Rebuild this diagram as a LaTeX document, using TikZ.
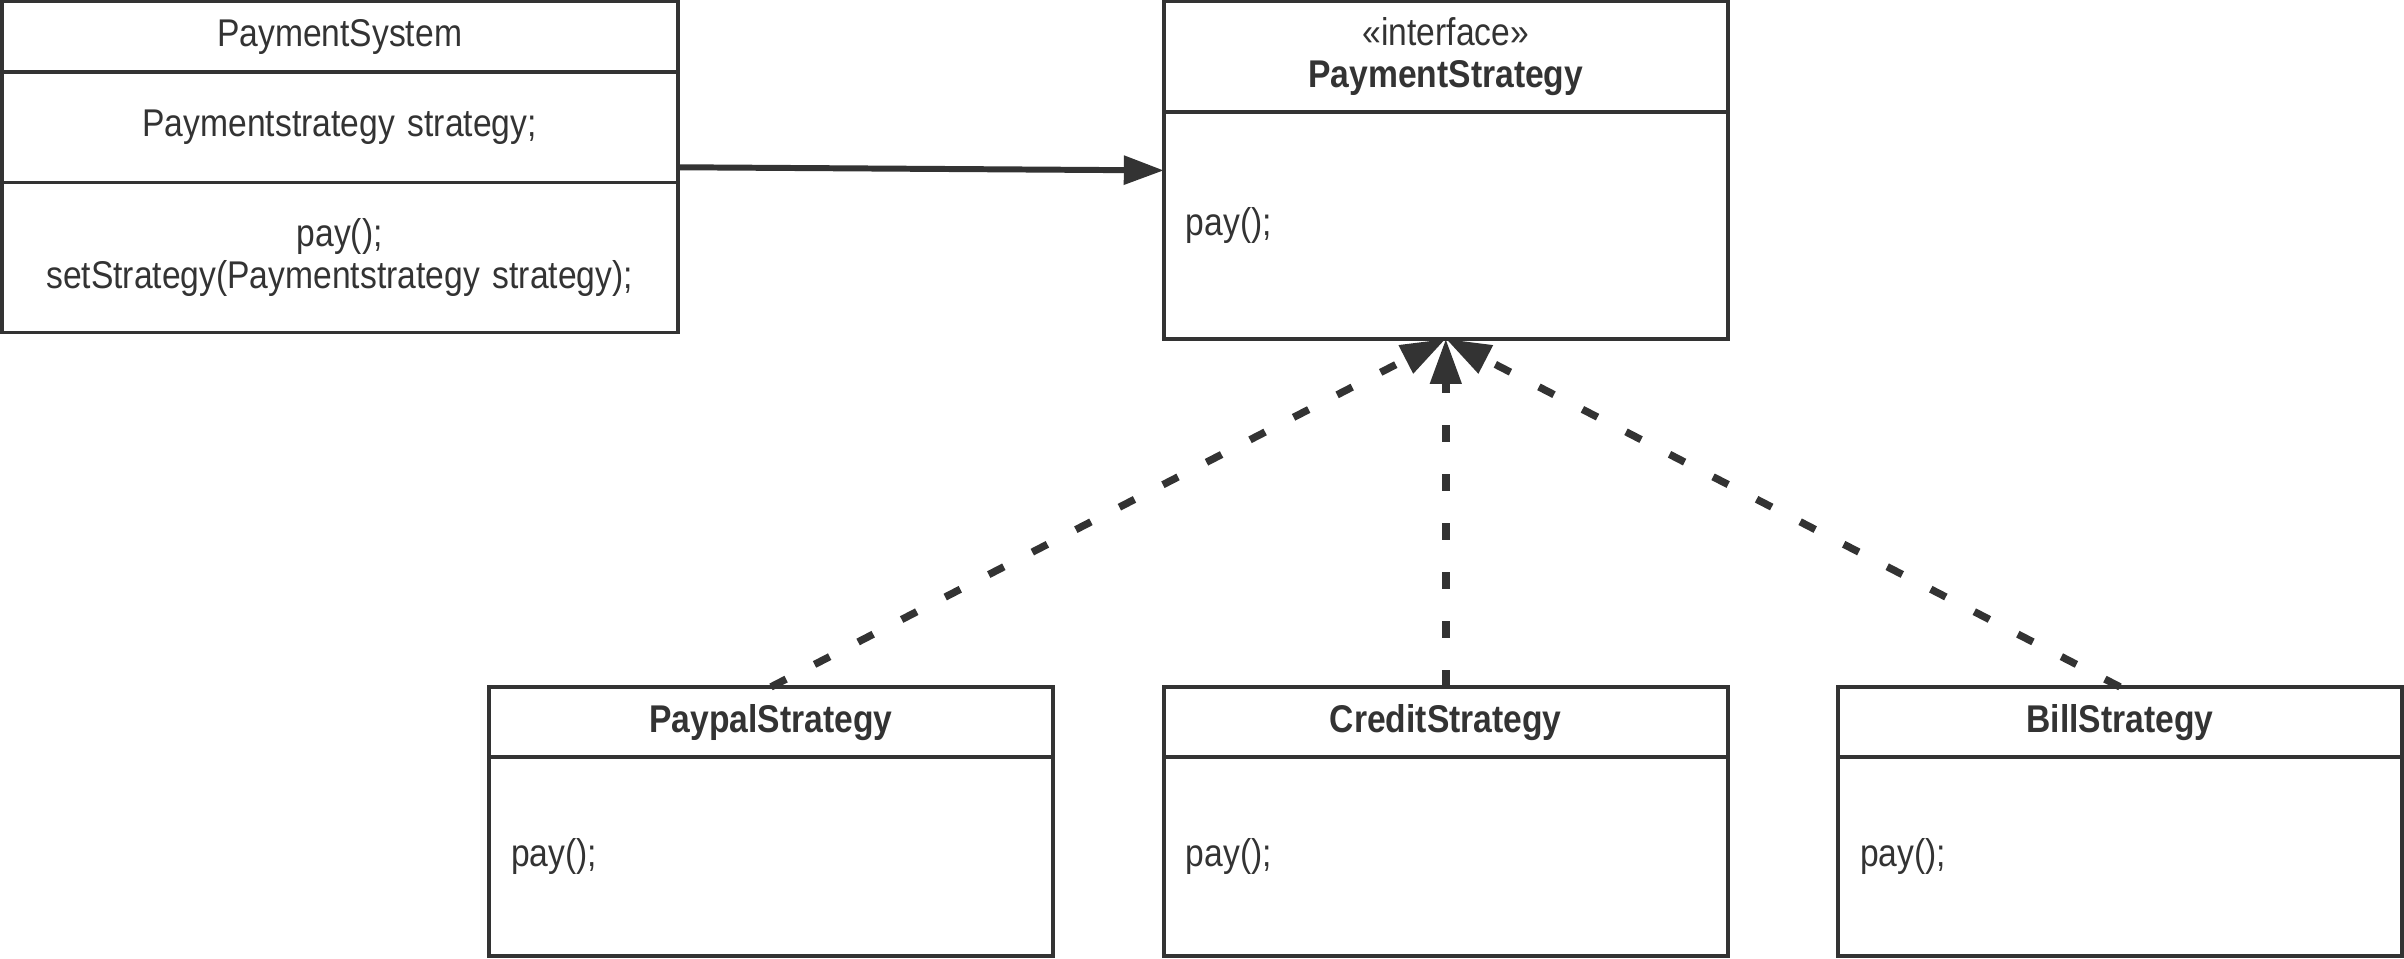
\documentclass[tikz,border=0pt]{standalone}
\usepackage{fontspec}
\setmainfont{Liberation Sans}[FakeStretch=0.87]
\usetikzlibrary{arrows.meta, calc, positioning}
\definecolor{umlg}{HTML}{333333}

\begin{document}
\begin{tikzpicture}[
        box/.style={draw=umlg, line width=1.1pt, text=umlg, inner xsep=2.2mm, inner ysep=0pt, outer sep=0pt,
            font=\fontsize{11}{12}\selectfont},
        wide/.style={box, text width=6.32cm, minimum height=#1},
        narrow/.style={box, text width=5.2cm, minimum height=#1},
        assoc/.style={umlg, line width=1.7pt, -{Triangle[length=4mm, width=2.8mm]}},
        realize/.style={umlg, line width=2.1pt, dash pattern=on 1.7mm off 3.2mm, -{Triangle[length=4.5mm, width=3mm]}}
    ]
        \useasboundingbox (0,0) rectangle (24.04,-9.58);
        \node[wide=7.05mm, align=center] (sys) at (3.396,-0.3675) {PaymentSystem};
        \node[wide=11.05mm, align=center, below=0pt of sys] (sysattr) {Paymentstrategy strategy;};
        \node[wide=15mm, align=center, below=0pt of sysattr] (sysops) {pay();\\setStrategy(Paymentstrategy strategy);};

        \node[narrow=11.05mm, align=center] (iface) at (14.458,-0.5675) {«interface»\\\textbf{PaymentStrategy}};
        \node[narrow=22.68mm, align=left, below=0pt of iface] (ifbody) {pay();};

        \node[narrow=7.05mm, align=center] (paypal) at (7.71,-7.2215) {\textbf{PaypalStrategy}};
        \node[narrow=19.86mm, align=left, below=0pt of paypal] (paypalbody) {pay();};
        \node[narrow=7.05mm, align=center] (credit) at (14.458,-7.2215) {\textbf{CreditStrategy}};
        \node[narrow=19.86mm, align=left, below=0pt of credit] (creditbody) {pay();};
        \node[narrow=7.05mm, align=center] (bill) at (21.2,-7.2215) {\textbf{BillStrategy}};
        \node[narrow=19.86mm, align=left, below=0pt of bill] (billbody) {pay();};

        \draw[assoc] ([yshift=-4mm]sysattr.east) -- ([yshift=5.5mm]ifbody.west);
        \draw[realize] (paypal.north) -- (ifbody.south);
        \draw[realize] (credit.north) -- (ifbody.south);
        \draw[realize] (bill.north) -- (ifbody.south);
    \end{tikzpicture}
\end{document}
